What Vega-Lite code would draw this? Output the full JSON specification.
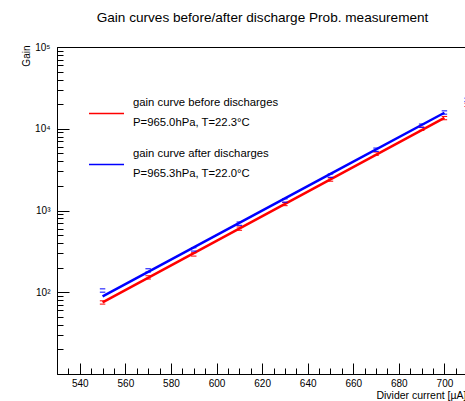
{
  "$schema": "https://vega.github.io/schema/vega-lite/v6.json",
  "autosize": "none",
  "width": 433,
  "height": 327,
  "padding": {"left": 57, "top": 47, "right": 0, "bottom": 27},
  "background": "white",
  "title": {
    "text": "Gain curves before/after discharge Prob. measurement",
    "font": "Liberation Sans",
    "fontSize": 13.6,
    "fontWeight": "normal",
    "color": "black",
    "anchor": "middle",
    "dx": -11,
    "offset": 6,
    "baseline": "alphabetic"
  },
  "config": {
    "view": {"stroke": "black", "strokeWidth": 1},
    "axis": {
      "grid": false,
      "domainColor": "black",
      "tickColor": "black",
      "labelColor": "black",
      "titleColor": "black",
      "labelFont": "Liberation Sans",
      "titleFont": "Liberation Sans",
      "titleFontWeight": "normal",
      "labelFontSize": 10,
      "titleFontSize": 10
    }
  },
  "datasets": {
    "fit": [
      {"current": 550, "gain": 75, "series": "before"},
      {"current": 600, "gain": 425, "series": "before"},
      {"current": 650, "gain": 2400, "series": "before"},
      {"current": 700, "gain": 13600, "series": "before"},
      {"current": 550, "gain": 89, "series": "after"},
      {"current": 600, "gain": 500, "series": "after"},
      {"current": 650, "gain": 2800, "series": "after"},
      {"current": 700, "gain": 15700, "series": "after"}
    ],
    "points": [
      {"current": 550, "gain": 75, "series": "before"},
      {"current": 570, "gain": 152, "series": "before"},
      {"current": 590, "gain": 290, "series": "before"},
      {"current": 610, "gain": 600, "series": "before"},
      {"current": 630, "gain": 1200, "series": "before"},
      {"current": 650, "gain": 2390, "series": "before"},
      {"current": 670, "gain": 4950, "series": "before"},
      {"current": 690, "gain": 10000, "series": "before"},
      {"current": 700, "gain": 13500, "series": "before"},
      {"current": 710, "gain": 19600, "series": "before"},
      {"current": 550, "gain": 105, "series": "after"},
      {"current": 570, "gain": 185, "series": "after"},
      {"current": 590, "gain": 334, "series": "after"},
      {"current": 610, "gain": 690, "series": "after"},
      {"current": 630, "gain": 1325, "series": "after"},
      {"current": 650, "gain": 2670, "series": "after"},
      {"current": 670, "gain": 5540, "series": "after"},
      {"current": 690, "gain": 10900, "series": "after"},
      {"current": 700, "gain": 15800, "series": "after"},
      {"current": 710, "gain": 22600, "series": "after"}
    ]
  },
  "layer": [
    {
      "data": {"name": "fit"},
      "mark": {"type": "line", "strokeWidth": 2.5},
      "encoding": {
        "x": {
          "field": "current",
          "type": "quantitative",
          "scale": {"domain": [530, 720], "nice": false, "zero": false},
          "axis": {
            "values": [540, 560, 580, 600, 620, 640, 660, 680, 700],
            "tickSize": -11,
            "labelPadding": 15,
            "title": "Divider current [µA]",
            "titleAnchor": "end",
            "titleAlign": "right",
            "titleBaseline": "middle",
            "titleX": 409,
            "titleY": 21,
            "titleFontSize": 10.5
          }
        },
        "y": {
          "field": "gain",
          "type": "quantitative",
          "scale": {"type": "log", "domain": [10, 100000], "nice": false},
          "axis": {
            "values": [100, 1000, 10000, 100000],
            "tickSize": -12,
            "labelPadding": 19,
            "labelExpr": "datum.value == 100 ? '10²' : datum.value == 1000 ? '10³' : datum.value == 10000 ? '10⁴' : '10⁵'",
            "title": "Gain",
            "titleAngle": 270,
            "titleAlign": "right",
            "titleBaseline": "middle",
            "titleX": -31,
            "titleY": -2
          }
        },
        "color": {
          "field": "series",
          "type": "nominal",
          "scale": {"domain": ["before", "after"], "range": ["#ff0000", "#0000ff"]},
          "legend": {
            "orient": "none",
            "legendX": 31,
            "legendY": 48,
            "title": null,
            "padding": 0,
            "symbolType": "stroke",
            "symbolSize": 1225,
            "symbolStrokeWidth": 1.5,
            "labelFont": "Liberation Sans",
            "labelFontSize": 11.3,
            "labelColor": "black",
            "labelOffset": 8,
            "labelLimit": 400,
            "labelBaseline": "middle",
            "rowPadding": 18,
            "labelExpr": "datum.label == 'before' ? ['gain curve before discharges', 'P=965.0hPa, T=22.3°C'] : ['gain curve after discharges', 'P=965.3hPa, T=22.0°C']",
            "encode": {
              "labels": {"update": {"lineHeight": {"value": 20}, "dy": {"value": -11}}},
              "symbols": {"update": {"stroke": {"signal": "datum.value == 'before' ? '#ff0000' : '#0000ff'"}, "opacity": {"value": 1}, "strokeOpacity": {"value": 1}}}
            }
          }
        }
      }
    },
    {
      "data": {"name": "points"},
      "mark": {"type": "point", "shape": "M-1,-0.6H1M-1,0.6H1", "filled": false, "size": 30, "strokeWidth": 1, "opacity": 1},
      "encoding": {
        "x": {
          "field": "current",
          "type": "quantitative",
          "scale": {"domain": [530, 720], "nice": false, "zero": false},
          "axis": {
            "orient": "bottom",
            "values": [535, 545, 550, 555, 565, 570, 575, 585, 590, 595, 605, 610, 615, 625, 630, 635, 645, 650, 655, 665, 670, 675, 685, 690, 695, 705, 710, 715],
            "tickSize": -6,
            "labels": false,
            "domain": false,
            "title": null
          }
        },
        "y": {
          "field": "gain",
          "type": "quantitative",
          "scale": {"type": "log", "domain": [10, 100000], "nice": false},
          "axis": {
            "orient": "left",
            "values": [20, 30, 40, 50, 60, 70, 80, 90, 200, 300, 400, 500, 600, 700, 800, 900, 2000, 3000, 4000, 5000, 6000, 7000, 8000, 9000, 20000, 30000, 40000, 50000, 60000, 70000, 80000, 90000],
            "tickSize": -6,
            "labels": false,
            "domain": false,
            "title": null
          }
        },
        "stroke": {"field": "series", "type": "nominal", "scale": {"domain": ["before", "after"], "range": ["#ff0000", "#0000ff"]}, "legend": null}
      }
    }
  ],
  "resolve": {"scale": {"x": "independent", "y": "independent"}}
}
